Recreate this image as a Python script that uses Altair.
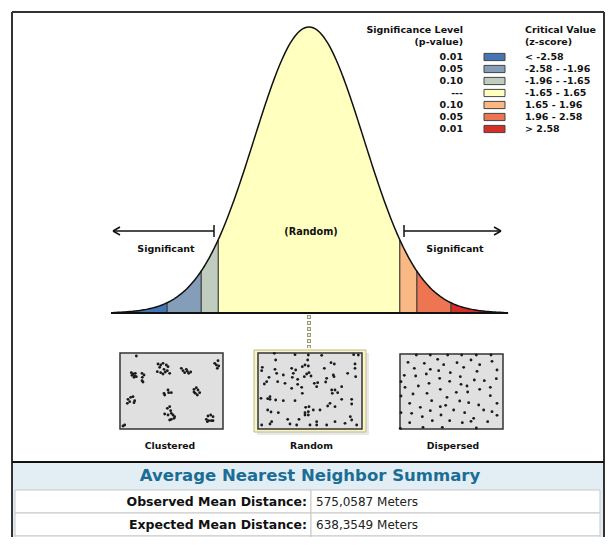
import altair as alt
import numpy as np
import pandas as pd

# ---------------- data ----------------
z_breaks = [-3.55, -2.58, -1.96, -1.65, 1.65, 1.96, 2.58, 3.55]
segments = ["cold99", "cold95", "cold90", "random", "hot90", "hot95", "hot99"]
seg_colors = ["#4575b5", "#849eba", "#c0ccbe", "#ffffbf", "#fab984", "#ed7551", "#d62f27"]
p_values = ["0.01", "0.05", "0.10", "---", "0.10", "0.05", "0.01"]
critical_values = ["< -2.58", "-2.58 - -1.96", "-1.96 - -1.65", "-1.65 - 1.65",
                   "1.65 - 1.96", "1.96 - 2.58", "> 2.58"]
divider_z = [-2.58, -1.96, -1.65, 1.65, 1.96, 2.58]
pattern_names = ["Clustered", "Random", "Dispersed"]

clustered_pts = [(55, 18), (40, 68), (45, 72), (50, 78), (55, 80), (48, 82), (42, 76), (52, 70),
                 (72, 70), (78, 75), (73, 82), (72, 92), (75, 96),
                 (120, 42), (128, 45), (135, 40), (145, 45), (150, 50), (125, 52), (118, 65),
                 (128, 68), (135, 72), (142, 66), (148, 62), (155, 70), (138, 58),
                 (190, 55), (195, 62), (200, 68), (208, 64), (212, 70), (218, 66), (205, 58),
                 (300, 32), (295, 45), (302, 48), (298, 55), (290, 40),
                 (138, 130), (140, 135), (150, 120), (152, 128), (160, 128),
                 (228, 118), (235, 113), (240, 120), (245, 128), (232, 130), (238, 135), (228, 126),
                 (30, 148), (38, 142), (45, 140), (50, 152), (48, 158), (28, 160), (35, 155),
                 (148, 175), (155, 170), (158, 182), (140, 192), (150, 195), (160, 190), (165, 195),
                 (170, 200), (168, 205), (155, 210), (160, 208),
                 (270, 198), (278, 195), (285, 200), (265, 208), (272, 212), (280, 212), (268, 215),
                 (285, 212), (15, 228), (20, 225)]
random_pts = [(58, 10), (120, 14), (160, 15), (200, 16), (296, 14), (310, 15), (62, 30), (158, 30),
              (228, 38), (238, 42), (300, 42), (22, 52), (20, 62), (60, 58), (110, 55), (122, 60),
              (142, 50), (150, 45), (160, 48), (208, 55), (300, 55), (65, 70), (85, 75), (115, 70),
              (155, 72), (162, 68), (278, 70), (42, 82), (112, 82), (128, 88), (148, 80), (168, 78),
              (215, 85), (235, 75), (237, 80), (302, 80), (35, 95), (68, 95), (90, 100), (128, 103),
              (178, 100), (188, 98), (212, 96), (28, 102), (110, 115), (140, 112), (185, 110),
              (260, 110), (230, 120), (240, 120), (248, 128), (232, 130), (142, 130), (45, 140),
              (38, 146), (45, 148), (18, 145), (62, 150), (85, 152), (120, 152), (260, 148),
              (290, 148), (225, 160), (290, 162), (218, 168), (152, 172), (162, 170), (240, 170),
              (38, 180), (48, 186), (70, 188), (150, 188), (160, 185), (175, 180), (195, 180),
              (150, 195), (160, 195), (98, 208), (132, 208), (185, 215), (240, 215), (286, 200),
              (290, 210), (20, 225), (45, 222), (105, 222), (125, 225), (165, 225), (185, 225),
              (215, 225), (270, 220), (305, 225), (50, 215)]
dispersed_pts = [(58, 15), (100, 15), (152, 15), (194, 15), (238, 15), (282, 15),
                 (33, 37), (82, 40), (122, 28), (140, 44), (180, 38), (222, 30), (248, 44), (285, 34),
                 (52, 55), (100, 58), (160, 68), (200, 52), (240, 64), (300, 60), (125, 62),
                 (22, 76), (56, 78), (88, 72), (190, 80), (232, 90), (262, 92), (298, 86), (128, 85),
                 (12, 95), (24, 112), (64, 108), (96, 100), (130, 118), (158, 94), (210, 108),
                 (248, 118), (280, 112), (192, 103), (48, 132), (90, 130), (178, 127), (212, 126),
                 (280, 137), (12, 138), (150, 142), (38, 160), (104, 152), (146, 166), (188, 153),
                 (215, 158), (245, 165), (300, 160), (70, 172), (100, 182), (130, 170), (170, 180),
                 (203, 188), (260, 180), (285, 185), (44, 190), (76, 200), (132, 195), (230, 205),
                 (300, 196), (38, 218), (106, 212), (158, 212), (196, 218), (222, 214), (272, 215),
                 (78, 232), (136, 232), (238, 234), (12, 188), (10, 235)]

summary_title = "Average Nearest Neighbor Summary"
summary_labels = ["Observed Mean Distance:", "Expected Mean Distance:", "Nearest Neighbor Ratio:"]
summary_values = ["575,0587 Meters", "638,3549 Meters", "0,900845"]

# ---------------- layout ----------------
W, H = 597, 529
FONT = "DejaVu Sans"
O = 8  # page margin


def px(v):
    return v - O


def pdf(z):
    z = np.asarray(z, dtype=float)
    return np.exp(-z ** 2 / 2) / np.sqrt(2 * np.pi)


xs = alt.Scale(domain=[-301 / 55, 296 / 55], nice=False, zero=False)
ys = alt.Scale(domain=[-(H - 305) / 716.9, 305 / 716.9], nice=False, zero=False)
cs = alt.Scale(domain=segments, range=seg_colors)

rows = []
for i, s in enumerate(segments):
    for z in np.linspace(z_breaks[i], z_breaks[i + 1], 40):
        rows.append({"z": z, "pdf": float(pdf(z)), "base": 0.0, "seg": s})
seg_df = pd.DataFrame(rows)
full_z = np.linspace(z_breaks[0], z_breaks[-1], 300)
line_df = pd.DataFrame({"z": full_z, "pdf": pdf(full_z)})
div_df = pd.DataFrame({"z": divider_z, "pdf": pdf(divider_z), "base": 0.0})
base_df = pd.DataFrame({"z0": [-3.6], "z1": [3.62], "base": [0.0]})

one = pd.DataFrame({"k": [0]})


def rect(x0, x1, y0, y1, **kw):
    return alt.Chart(one).mark_rect(**kw).encode(
        x=alt.value(px(x0)), x2=alt.value(px(x1)), y=alt.value(px(y0)), y2=alt.value(px(y1)))


def seg(x0, y0, x1, y1, **kw):
    return alt.Chart(one).mark_rule(**kw).encode(
        x=alt.value(px(x0)), x2=alt.value(px(x1)), y=alt.value(px(y0)), y2=alt.value(px(y1)))


def label(t, x, y, size=9, weight="bold", align="center", color="#111"):
    return alt.Chart(pd.DataFrame({"t": [t]})).mark_text(
        font=FONT, fontSize=size, fontWeight=weight, align=align, baseline="middle", color=color
    ).encode(x=alt.value(px(x)), y=alt.value(px(y)), text="t:N")


layers = []

# frame
layers.append(rect(12, 604, 462, 560, fill="#e2eef4"))
layers.append(seg(12, 12, 604, 12, color="#333", strokeWidth=2))
layers.append(seg(12, 12, 12, 560, color="#333", strokeWidth=2))
layers.append(seg(604, 12, 604, 560, color="#333", strokeWidth=2))
layers.append(seg(12, 462, 604, 462, color="#111", strokeWidth=2))

# bell curve
layers.append(alt.Chart(seg_df).mark_area(opacity=1).encode(
    x=alt.X("z:Q", scale=xs, axis=None),
    y=alt.Y("pdf:Q", scale=ys, axis=None, stack=None),
    y2="base:Q",
    color=alt.Color("seg:N", scale=cs, legend=None)))
layers.append(alt.Chart(div_df).mark_rule(color="#3a3a3a", strokeWidth=1.2).encode(
    x=alt.X("z:Q", scale=xs, axis=None), y=alt.Y("base:Q", scale=ys, axis=None), y2="pdf:Q"))
layers.append(alt.Chart(line_df).mark_line(color="#111", strokeWidth=1.5).encode(
    x=alt.X("z:Q", scale=xs, axis=None), y=alt.Y("pdf:Q", scale=ys, axis=None)))
layers.append(alt.Chart(base_df).mark_rule(color="#111", strokeWidth=2).encode(
    x=alt.X("z0:Q", scale=xs, axis=None), x2="z1:Q", y=alt.Y("base:Q", scale=ys, axis=None)))

# arrows and annotations
layers.append(seg(113, 231, 214, 231, color="#111", strokeWidth=1.5))
layers.append(seg(214, 225, 214, 237, color="#111", strokeWidth=1.5))
layers.append(seg(113, 231, 120, 227, color="#111", strokeWidth=1.5))
layers.append(seg(113, 231, 120, 235, color="#111", strokeWidth=1.5))
layers.append(seg(404, 231, 501, 231, color="#111", strokeWidth=1.5))
layers.append(seg(404, 225, 404, 237, color="#111", strokeWidth=1.5))
layers.append(seg(501, 231, 494, 227, color="#111", strokeWidth=1.5))
layers.append(seg(501, 231, 494, 235, color="#111", strokeWidth=1.5))
layers.append(label("Significant", 166, 249, size=9.5))
layers.append(label("Significant", 455, 249, size=9.5))
layers.append(label("(Random)", 311, 232, size=9.7))

# dotted connector
layers.append(seg(309, 315, 309, 348, color="#9a9a80", strokeWidth=4, strokeDash=[4, 2]))
layers.append(seg(309, 315, 309, 348, color="#f3efb8", strokeWidth=2, strokeDash=[2, 4],
                  strokeDashOffset=-1))

# legend
LS = 9.5
layers.append(label("Significance Level", 463, 30, size=LS, align="right"))
layers.append(label("(p-value)", 463, 42, size=LS, align="right"))
layers.append(label("Critical Value", 525, 30, size=LS, align="left"))
layers.append(label("(z-score)", 525, 42, size=LS, align="left"))
leg_df = pd.DataFrame({"row": list(range(7)), "p": p_values, "c": critical_values, "seg": segments})
leg_y = alt.Scale(domain=[0, 6], range=[px(57), px(129)])
layers.append(alt.Chart(leg_df).mark_text(font=FONT, fontSize=LS, fontWeight="bold", align="right",
                                          baseline="middle", color="#111").encode(
    x=alt.value(px(463)), y=alt.Y("row:Q", scale=leg_y, axis=None), text="p:N"))
layers.append(alt.Chart(leg_df).mark_text(font=FONT, fontSize=LS, fontWeight="bold", align="left",
                                          baseline="middle", color="#111").encode(
    x=alt.value(px(525)), y=alt.Y("row:Q", scale=leg_y, axis=None), text="c:N"))
layers.append(alt.Chart(leg_df).transform_calculate(
    r0="datum.row - 0.3", r1="datum.row + 0.3").mark_rect(stroke="#444", strokeWidth=1).encode(
    x=alt.value(px(484)), x2=alt.value(px(505)),
    y=alt.Y("r0:Q", scale=leg_y, axis=None), y2="r1:Q",
    color=alt.Color("seg:N", scale=cs, legend=None)))

# pattern boxes
layers.append(rect(257, 369, 353, 435, fill="#d8d8d8", opacity=0.6))
layers.append(rect(254, 366, 350, 432, fill="#f9f5c4", stroke="#bdb88e", strokeWidth=1))
layers.append(rect(120, 223, 353, 429, fill="#e0e0e0", stroke="#333", strokeWidth=1.5))
layers.append(rect(258, 362, 353, 429, fill="#e0e0e0", stroke="#333", strokeWidth=1.5))
layers.append(rect(400, 503, 354, 429, fill="#e0e0e0", stroke="#333", strokeWidth=1.5))


def dots(pts, x0):
    d = pd.DataFrame(pts, columns=["u", "v"])
    return alt.Chart(d).mark_circle(size=8, color="#1a1a1a", opacity=1).encode(
        x=alt.X("u:Q", scale=alt.Scale(domain=[0, 324], range=[px(x0), px(x0 + 108)]), axis=None),
        y=alt.Y("v:Q", scale=alt.Scale(domain=[0, 246], range=[px(350), px(432)]), axis=None))


layers.append(dots(clustered_pts, 118))
layers.append(dots(random_pts, 255))
layers.append(dots(dispersed_pts, 397))

name_df = pd.DataFrame({"i": [0, 1, 2], "name": pattern_names})
layers.append(alt.Chart(name_df).mark_text(font=FONT, fontSize=9.3, fontWeight="bold",
                                           baseline="middle", color="#111").encode(
    x=alt.X("i:Q", scale=alt.Scale(domain=[0, 2], range=[px(170), px(453)]), axis=None),
    y=alt.value(px(446)), text="name:N"))

# summary table
layers.append(label(summary_title, 310, 476, size=16.5, color="#1b6d96"))
tab_df = pd.DataFrame({"row": [0, 1, 2], "lab": summary_labels, "val": summary_values})
tab_y = alt.Scale(domain=[0, 3], range=[px(490), px(559)])
tab = alt.Chart(tab_df).transform_calculate(r1="datum.row + 1", rm="datum.row + 0.5")
layers.append(tab.mark_rect(fill="white", stroke="#c8c8c8", strokeWidth=1).encode(
    x=alt.value(px(15)), x2=alt.value(px(311)),
    y=alt.Y("row:Q", scale=tab_y, axis=None), y2="r1:Q"))
layers.append(tab.mark_rect(fill="white", stroke="#c8c8c8", strokeWidth=1).encode(
    x=alt.value(px(311)), x2=alt.value(px(600)),
    y=alt.Y("row:Q", scale=tab_y, axis=None), y2="r1:Q"))
layers.append(tab.mark_text(font=FONT, fontSize=12.5, fontWeight="bold", align="right",
                            baseline="middle", color="#111").encode(
    x=alt.value(px(307)), y=alt.Y("rm:Q", scale=tab_y, axis=None), text="lab:N"))
layers.append(tab.mark_text(font=FONT, fontSize=12, align="left",
                            baseline="middle", color="#222").encode(
    x=alt.value(px(316)), y=alt.Y("rm:Q", scale=tab_y, axis=None), text="val:N"))

chart = alt.layer(*layers).resolve_scale(x="independent", y="independent").properties(
    width=W, height=H, padding=0, autosize=alt.AutoSizeParams(type="none"),
    background="white").configure_view(stroke=None)

chart.save("out.html", embed_options={"renderer": "svg", "actions": False})
